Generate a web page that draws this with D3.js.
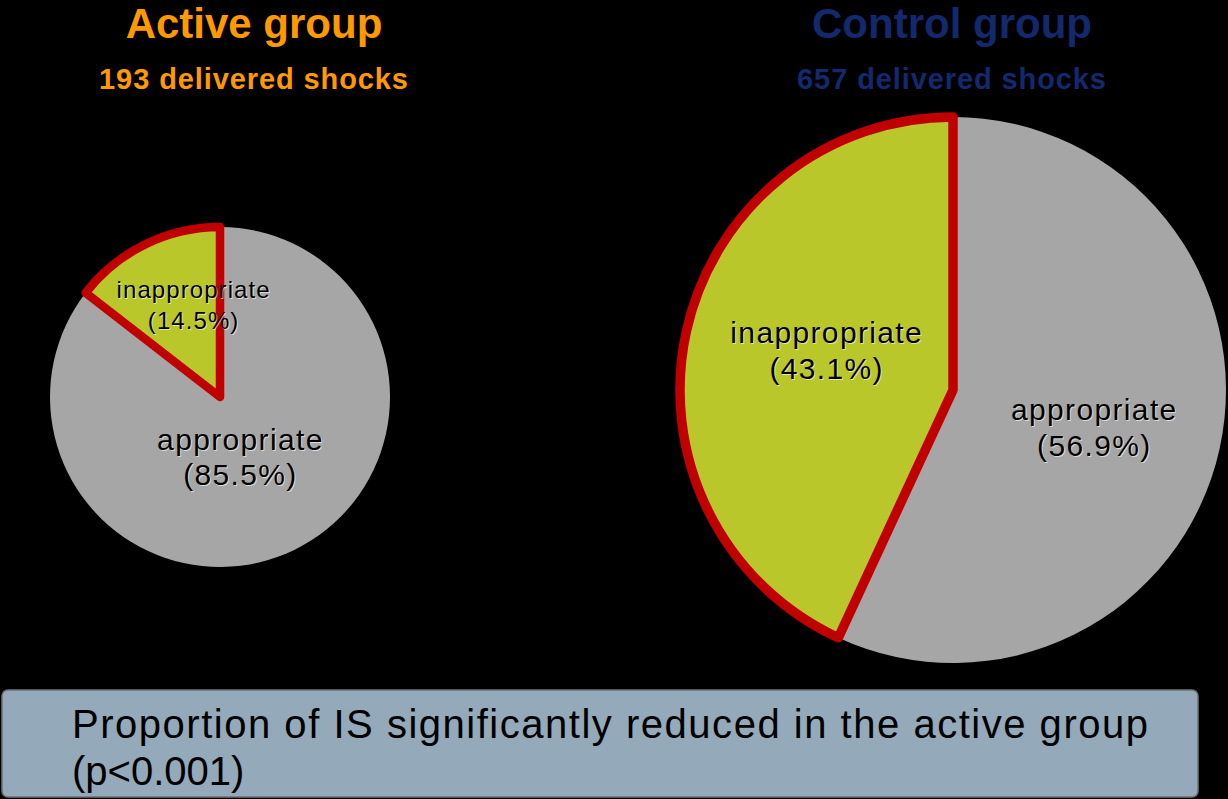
<!DOCTYPE html>
<html>
<head>
<meta charset="utf-8">
<script src="https://cdn.jsdelivr.net/npm/d3@7"></script>
<style>
  html, body { margin: 0; padding: 0; background: #000; }
  svg { display: block; font-family: "Liberation Sans", Arial, sans-serif; }
</style>
</head>
<body>
<svg id="chart" width="1228" height="799"></svg>
<script>
// data
const categories = ["appropriate", "inappropriate"];
const groupNames = ["Active group", "Control group"];
const shockCounts = [193, 657];
const activeShares = [85.5, 14.5];
const controlShares = [56.9, 43.1];
const conclusion = ["Proportion of IS significantly reduced in the active group", "(p<0.001)"];

const width = 1228, height = 799;
const svg = d3.select("#chart");

const fillColor = d3.scaleOrdinal().domain(categories).range(["#a6a6a6", "#b9c72b"]);

// one entry per pie: layout only
const panels = [
  { shares: activeShares, cx: 220, cy: 397, r: 170, titleX: 254, titleColor: "#ff9900",
    stroke: 8.5, labelSize: [30, 24], labelGap: [35, 31],
    nudge: [[-17, -16], [11, -16]] },
  { shares: controlShares, cx: 953, cy: 390, r: 273, titleX: 952, titleColor: "#12296e",
    stroke: 9.5, labelSize: [30, 30], labelGap: [36, 36],
    nudge: [[8, 8], [7, -10]] }
];

const pie = d3.pie().sort(null).value(d => d.value).startAngle(0);

panels.forEach((p, i) => {
  const g = svg.append("g").attr("transform", `translate(${p.cx},${p.cy})`);
  const slices = pie(categories.map((c, k) => ({ name: c, value: p.shares[k] })));
  const arc = d3.arc().innerRadius(0).outerRadius(p.r);
  const labelArc = d3.arc().innerRadius(p.r * 0.5).outerRadius(p.r * 0.5);

  g.selectAll("path.slice")
    .data(slices)
    .join("path")
    .attr("class", "slice")
    .attr("d", arc)
    .attr("fill", d => fillColor(d.data.name))
    .attr("stroke", d => d.data.name === "inappropriate" ? "#c00000" : "none")
    .attr("stroke-width", p.stroke)
    .attr("stroke-linejoin", "round");

  slices.forEach((d, k) => {
    const [x, y] = labelArc.centroid(d);
    const fs = p.labelSize[k], gap = p.labelGap[k];
    const lx = x + p.nudge[k][0], ly = y + p.nudge[k][1];
    const lines = [d.data.name, `(${d.data.value.toFixed(1)}%)`];
    [["#fff", 1], ["#000", 0]].forEach(([col, off]) => {
      g.append("text")
        .attr("text-anchor", "middle")
        .attr("font-size", fs)
        .attr("letter-spacing", fs * 0.045)
        .attr("fill", col)
        .attr("fill-opacity", off ? 0.6 : 1)
        .selectAll("tspan")
        .data(lines)
        .join("tspan")
        .attr("x", lx + off)
        .attr("y", (t, j) => ly + off + (j - 0.5) * gap + fs * 0.35)
        .text(t => t);
    });
  });

  svg.append("text")
    .attr("x", p.titleX).attr("y", 38)
    .attr("text-anchor", "middle")
    .attr("font-size", 42).attr("font-weight", "bold")
    .attr("fill", p.titleColor)
    .text(groupNames[i]);

  svg.append("text")
    .attr("x", p.titleX).attr("y", 89)
    .attr("text-anchor", "middle")
    .attr("font-size", 29).attr("font-weight", "bold")
    .attr("letter-spacing", 0.9)
    .attr("fill", p.titleColor)
    .text(`${shockCounts[i]} delivered shocks`);
});

// conclusion box
svg.append("rect")
  .attr("x", 2).attr("y", 690).attr("width", 1196).attr("height", 107)
  .attr("rx", 6)
  .attr("fill", "#94a9ba")
  .attr("stroke", "#6f7478").attr("stroke-width", 1.5);

svg.append("text")
  .attr("font-size", 40)
  .attr("fill", "#000")
  .selectAll("tspan")
  .data(conclusion)
  .join("tspan")
  .attr("x", 72)
  .attr("y", (t, j) => 738 + j * 47)
  .attr("textLength", (t, j) => j === 0 ? 1076 : null)
  .attr("lengthAdjust", "spacing")
  .text(t => t);
</script>
</body>
</html>
